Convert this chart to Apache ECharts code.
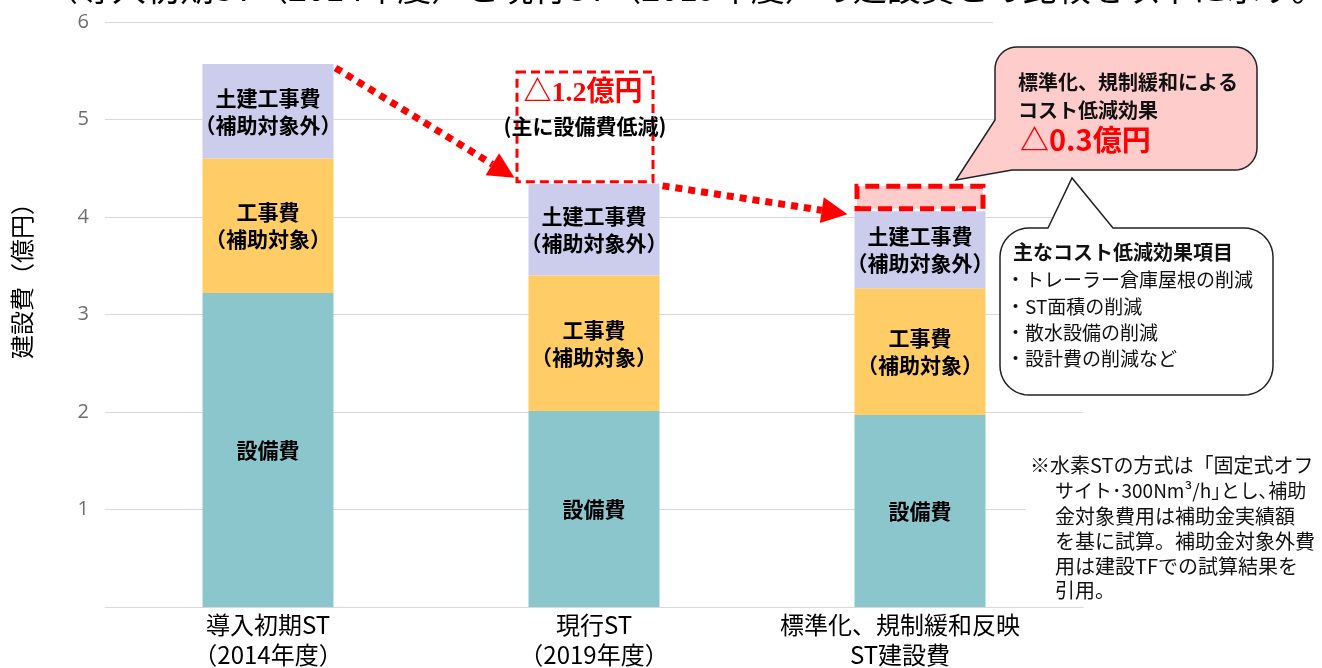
<!DOCTYPE html>
<html><head><meta charset="utf-8">
<script src="https://cdn.jsdelivr.net/npm/echarts@6/dist/echarts.min.js"></script>
<style>html,body{margin:0;padding:0;background:#fff}#c{width:1322px;height:668px}</style>
</head><body><div id="c"></div>
<script>
const categories = ['導入初期ST\n（2014年度）', '現行ST\n（2019年度）', '標準化、規制緩和反映\nST建設費'];
const setsubi = [3.22, 2.01, 1.97];
const kouji = [1.38, 1.39, 1.30];
const doken = [0.97, 0.94, 0.79];
const reduction = [null, null, 0.28];
const yTicks = [0, 1, 2, 3, 4, 5, 6];
const FONT = '"Noto Sans CJK JP", "Noto Sans", sans-serif';

const chart = echarts.init(document.getElementById('c'), null, {renderer: 'canvas'});
const lbl = (txt) => ({
  show: true, position: 'inside', formatter: txt, color: '#000',
  fontFamily: FONT, fontWeight: 'bold', fontSize: 21, lineHeight: 27
});
chart.setOption({
  animation: false,
  grid: {left: 105, right: 239, top: 22, bottom: 61, outerBoundsMode: 'none', containLabel: false},
  xAxis: {
    type: 'category', data: categories,
    axisLine: {lineStyle: {color: '#d9d9d9'}}, axisTick: {show: false},
    axisLabel: {interval: 0, hideOverlap: false, color: '#000', fontFamily: FONT, fontSize: 24, lineHeight: 30, margin: 3,
      formatter: (v, i) => i === 2 ? v.split('\n').map(s => '{s|' + s + '}').join('\n') : v,
      rich: {s: {fontFamily: FONT, fontSize: 24, lineHeight: 30, color: '#000', padding: [0, 40, 0, 0]}}}
  },
  yAxis: {
    type: 'value', min: yTicks[0], max: yTicks[yTicks.length - 1], interval: 1,
    axisLine: {show: false}, axisTick: {show: false},
    axisLabel: {color: '#6e6e6e', fontFamily: '"Open Sans", ' + FONT, fontSize: 20, margin: 16,
      formatter: v => v === 0 ? '' : String(v)},
    splitLine: {lineStyle: {color: '#d9d9d9'}}
  },
  series: [
    {name: '設備費', type: 'bar', stack: 's', barWidth: 131, data: setsubi,
     itemStyle: {color: '#8cc6cd'}, label: lbl('設備費')},
    {name: '工事費（補助対象）', type: 'bar', stack: 's', data: kouji,
     itemStyle: {color: '#ffcc66'}, label: lbl('工事費\n（補助対象）')},
    {name: '土建工事費（補助対象外）', type: 'bar', stack: 's', data: doken,
     itemStyle: {color: '#ccccec'}, label: lbl('土建工事費\n（補助対象外）')},
    {name: '規制緩和によるコスト低減', type: 'bar', stack: 's', data: reduction,
     itemStyle: {color: '#ffcccc', borderColor: '#ff0000', borderWidth: 5, borderType: [14, 7]},
     z: 3}
  ]
});

function px(i, v) { return chart.convertToPixel({xAxisIndex: 0, yAxisIndex: 0}, [i, v]); }
const tot = categories.map((_, i) => setsubi[i] + kouji[i] + doken[i]);
const half = 65.5;
const p0 = px(0, tot[0]), p1 = px(1, tot[1]), p2 = px(2, tot[2]);

function arrow(S, T) {
  const dx = T[0] - S[0], dy = T[1] - S[1], len = Math.hypot(dx, dy);
  const ux = dx / len, uy = dy / len, nx = -uy, ny = ux;
  const L = 26, W = 13;
  const B = [T[0] - ux * L, T[1] - uy * L];
  return [
    {type: 'line', shape: {x1: S[0], y1: S[1], x2: B[0], y2: B[1]},
     style: {stroke: '#ff0000', lineWidth: 7, lineDash: [7, 6]}, z: 10},
    {type: 'polygon', shape: {points: [T, [B[0] + nx * W, B[1] + ny * W], [B[0] - nx * W, B[1] - ny * W]]},
     style: {fill: '#ff0000'}, z: 10}
  ];
}
function arc(cx, cy, r, a0, a1) {
  const pts = [], n = 10;
  for (let k = 0; k <= n; k++) {
    const a = a0 + (a1 - a0) * k / n;
    pts.push([cx + r * Math.cos(a), cy + r * Math.sin(a)]);
  }
  return pts;
}
const PI = Math.PI;

const g = [];
g.push({type: 'rect', shape: {x: 993, y: 15, width: 100, height: 14}, style: {fill: '#fff'}, z: 1});
g.push({type: 'text', x: 44, y: -12, style: {text: '（導入初期ST（2014年度）と現行ST（2019年度）の建設費との比較を以下に示す。',
  fill: '#000', font: '34px ' + FONT, verticalAlign: 'middle'}, z: 2});
g.push({type: 'text', x: 22, y: 275, rotation: PI / 2,
  style: {text: '建設費（億円）', fill: '#000', font: '24px ' + FONT, align: 'center', verticalAlign: 'middle'}});
g.push(...arrow([p0[0] + half + 2, p0[1] + 4], [p1[0] - half - 14, p1[1] - 6]));
g.push(...arrow([p1[0] + half + 3, p1[1] + 2], [p2[0] - half - 7, p2[1] + 3]));
const bx = p1[0] - 77, bw = 136;
g.push({type: 'rect', shape: {x: bx, y: 72, width: bw, height: p1[1] - 72 - 2},
  style: {fill: 'none', stroke: '#ff0000', lineWidth: 3, lineDash: [9, 5]}, z: 9});
g.push({type: 'text', x: bx + bw / 2 - 2, y: 94, style: {text: '△1.2億円', fill: '#ff0000',
  font: 'bold 28px "Liberation Serif", "Noto Sans CJK JP", serif', align: 'center', verticalAlign: 'middle'}, z: 11});
g.push({type: 'text', x: bx + bw / 2, y: 126, style: {text: '(主に設備費低減)', fill: '#000',
  font: 'bold 21px ' + FONT, align: 'center', verticalAlign: 'middle'}, z: 11});
const r1 = 22;
const b1 = [].concat(
  arc(995 + r1, 47 + r1, r1, PI, 1.5 * PI),
  arc(1257 - r1, 47 + r1, r1, 1.5 * PI, 2 * PI),
  arc(1257 - r1, 170 - r1, r1, 0, 0.5 * PI),
  [[1012, 170], [956, 180], [995, 120]]
);
g.push({type: 'polygon', shape: {points: b1}, style: {fill: '#ffcccc', stroke: '#222', lineWidth: 1.5}, z: 12});
g.push({type: 'text', x: 1018, y: 82, style: {text: '標準化、規制緩和による', fill: '#111', font: 'bold 20px ' + FONT, verticalAlign: 'middle'}, z: 13});
g.push({type: 'text', x: 1018, y: 110, style: {text: 'コスト低減効果', fill: '#111', font: 'bold 20px ' + FONT, verticalAlign: 'middle'}, z: 13});
g.push({type: 'text', x: 1020, y: 140, style: {text: '△0.3億円', fill: '#ff0000', font: 'bold 29px ' + FONT, verticalAlign: 'middle'}, z: 13});
const r2 = 29;
const b2pts = [].concat(
  arc(1000 + r2, 228 + r2, r2, PI, 1.5 * PI),
  [[1048, 228], [1072, 178], [1113, 228]],
  arc(1273 - r2, 228 + r2, r2, 1.5 * PI, 2 * PI),
  arc(1273 - r2, 395 - r2, r2, 0, 0.5 * PI),
  arc(1000 + r2, 395 - r2, r2, 0.5 * PI, PI)
);
g.push({type: 'polygon', shape: {points: b2pts}, style: {fill: '#ffffff', stroke: '#222', lineWidth: 1.5}, z: 12});
const b2 = [['主なコスト低減効果項目', true], ['・トレーラー倉庫屋根の削減', false], ['・ST面積の削減', false], ['・散水設備の削減', false], ['・設計費の削減など', false]];
const b2y = [252, 280, 307, 333, 359];
b2.forEach((t, i) => g.push({type: 'text', x: t[1] ? 1013 : 1006, y: b2y[i], style: {text: t[0], fill: '#111',
  font: (t[1] ? 'bold 20px ' : '19px ') + FONT, verticalAlign: 'middle'}, z: 13}));
const note = ['※水素STの方式は「固定式オフ', 'サイト･300Nm³/h｣とし､補助', '金対象費用は補助金実績額', 'を基に試算。補助金対象外費', '用は建設TFでの試算結果を', '引用。'];
const ny = [465, 491, 516, 541, 566, 590];
g.push({type: 'rect', shape: {x: 1026, y: 450, width: 290, height: 152}, style: {fill: '#fff'}, z: 5});
note.forEach((t, i) => g.push({type: 'text', x: i === 0 ? 1030 : 1055, y: ny[i], style: {text: t, fill: '#111',
  font: (i === 1 ? '19px ' : '20px ') + FONT, verticalAlign: 'middle'}, z: 13}));
chart.setOption({graphic: g});
</script></body></html>
